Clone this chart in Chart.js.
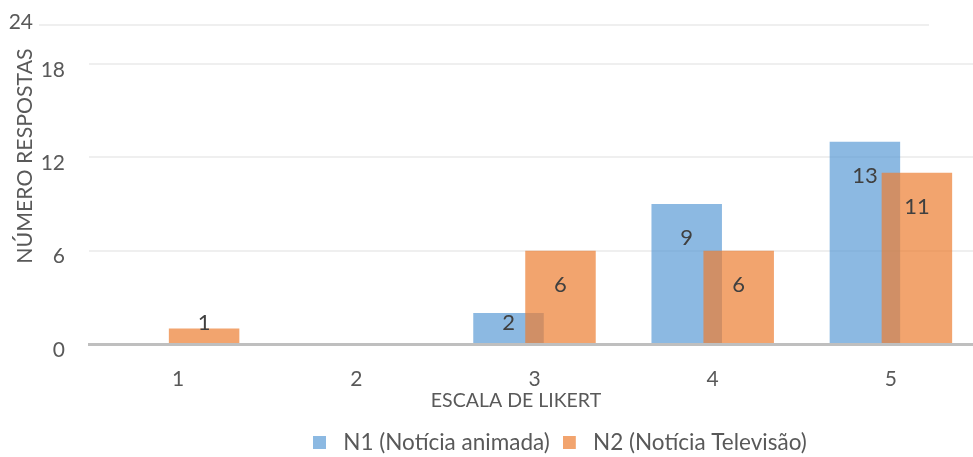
<!DOCTYPE html>
<html><head><meta charset="utf-8">
<script src="https://cdn.jsdelivr.net/npm/chart.js@4"></script>
<style>html,body{margin:0;padding:0;background:#fff;overflow:hidden}#wrap{width:980px;height:457px;position:relative}</style>
</head><body><div id="wrap"><canvas id="c"></canvas></div>
<script>
// ---- data ----
const categories = ['1', '2', '3', '4', '5'];
const seriesNames = ['N1 (Notícia animada)', 'N2 (Notícia Televisão)'];
const n1Values = [0, 0, 2, 9, 13];
const n2Values = [1, 0, 6, 6, 11];
const yTickValues = [0, 6, 12, 18];
const yTopLabel = '24';
const yVisibleMax = 20.5;
const xTitle = 'ESCALA DE LIKERT';
const yTitle = 'NÚMERO RESPOSTAS';

// ---- styles / layout targets ----
const FONT = 'Lato, "Open Sans", sans-serif';
const TXT = '#595959';
const LBL = '#404040';
const BLUE = 'rgba(91,155,213,0.7)';
const ORANGE = 'rgba(237,125,49,0.7)';
const GRID = '#EFEFEF';
const AREA = { left: 89, top: 25, bottom: 344 };

function swatch(color) {
  const c = document.createElement('canvas');
  c.width = 19; c.height = 13;
  const g = c.getContext('2d');
  g.fillStyle = '#fff'; g.fillRect(0, 0, 13, 13);
  g.fillStyle = color; g.fillRect(0, 0, 13, 13);
  return c;
}
const swatches = [swatch(BLUE), swatch(ORANGE)];

const placeBoxes = {
  id: 'placeBoxes',
  afterLayout(chart) {
    const move = (b, dx, dy) => { b.left += dx; b.right += dx; b.top += dy; b.bottom += dy; };
    const t = chart.titleBlock;
    if (t) move(t, 25 - (t.left + t.right) / 2, 156 - (t.top + t.bottom) / 2);
    const sub = chart.boxes.find(b => b !== t && b.options && b.options.text === xTitle);
    if (sub) move(sub, 516 - (sub.left + sub.right) / 2, 401 - (sub.top + 9.75));
    const lg = chart.legend;
    if (lg) move(lg, 300 - lg.left, 418 - lg.top);
  }
};

const overlay = {
  id: 'overlay',
  beforeDatasetsDraw(chart) {
    const {ctx, chartArea} = chart;
    ctx.save();
    ctx.strokeStyle = GRID; ctx.lineWidth = 2;
    ctx.beginPath(); ctx.moveTo(39, chartArea.top); ctx.lineTo(929, chartArea.top); ctx.stroke();
    ctx.fillStyle = TXT; ctx.font = '21px ' + FONT;
    ctx.textAlign = 'right'; ctx.textBaseline = 'middle';
    ctx.fillText(yTopLabel, 33, chartArea.top - 2.5);
    ctx.restore();
  },
  beforeDatasetDraw(chart, args) {
    if (args.index === 1 && !chart.$late) return false;
  },
  afterDatasetsDraw(chart) {
    const ctx = chart.ctx;
    const meta1 = chart.getDatasetMeta(1);
    ctx.save();
    chart.$late = true;
    meta1.controller.draw();
    chart.$late = false;
    ctx.restore();
    ctx.save();
    ctx.fillStyle = LBL; ctx.font = '22px ' + FONT;
    ctx.textAlign = 'center'; ctx.textBaseline = 'middle';
    chart.data.datasets.forEach((ds, di) => {
      const meta = chart.getDatasetMeta(di);
      meta.data.forEach((el, i) => {
        const v = ds.data[i];
        if (!v) return;
        ctx.fillText(String(v), el.x, Math.min(el.y + 34, el.base - 20));
      });
    });
    ctx.restore();
  }
};

const pad = { left: 13, top: 25, right: 0, bottom: 0 };

const chart = new Chart(document.getElementById('c'), {
  type: 'bar',
  data: {
    labels: categories,
    datasets: [
      { label: seriesNames[0], data: n1Values, backgroundColor: BLUE, borderWidth: 0,
        categoryPercentage: 0.5835, barPercentage: 1.356 },
      { label: seriesNames[1], data: n2Values, backgroundColor: ORANGE, borderWidth: 0,
        categoryPercentage: 0.5835, barPercentage: 1.356 }
    ]
  },
  options: {
    responsive: true,
    maintainAspectRatio: false,
    animation: false,
    layout: { padding: pad },
    scales: {
      x: {
        z: 1,
        grid: { display: false, drawTicks: false },
        border: { display: true, color: '#BFBFBF', width: 3 },
        ticks: { color: TXT, font: { family: FONT, size: 21 }, padding: 23 },
        afterFit: s => { s.paddingLeft = 0; s.paddingRight = 0; }
      },
      y: {
        min: 0, max: yVisibleMax,
        afterBuildTicks: s => { s.ticks = yTickValues.map(v => ({ value: v })); },
        afterFit: s => { s.width = 50; s.paddingTop = 0; s.paddingBottom = 0; },
        grid: { drawTicks: false, lineWidth: 2, color: c => (c.tick && c.tick.value === 0) ? 'rgba(0,0,0,0)' : GRID },
        border: { display: false },
        ticks: { color: TXT, font: { family: FONT, size: 21 }, padding: 24, labelOffset: 6 }
      }
    },
    plugins: {
      tooltip: { enabled: false },
      title: { display: true, text: yTitle, position: 'left', fullSize: false, padding: 0,
        color: TXT, font: { family: FONT, size: 21.3, weight: 'normal', lineHeight: 1.2 } },
      subtitle: { display: true, text: xTitle, position: 'bottom', padding: 0,
        color: TXT, font: { family: FONT, size: 19.5, weight: 'normal', lineHeight: 1 } },
      legend: {
        position: 'bottom', align: 'start', weight: 3000,
        labels: {
          color: TXT, font: { family: FONT, size: 22.5 }, padding: 13,
          usePointStyle: true, pointStyleWidth: 19, boxHeight: 13,
          generateLabels: c => Chart.defaults.plugins.legend.labels.generateLabels(c)
            .map(it => Object.assign(it, { pointStyle: swatches[it.datasetIndex] }))
        }
      }
    }
  },
  plugins: [placeBoxes, overlay]
});

// bring the plot area to the reference position
for (let k = 0; k < 4; k++) {
  const ca = chart.chartArea;
  if (!ca) break;
  const dl = AREA.left - ca.left, dt = AREA.top - ca.top, db = ca.bottom - AREA.bottom;
  if (Math.abs(dl) < 0.1 && Math.abs(dt) < 0.1 && Math.abs(db) < 0.1) break;
  pad.left += dl; pad.top += dt; pad.bottom += db;
  chart.update();
}
</script></body></html>
